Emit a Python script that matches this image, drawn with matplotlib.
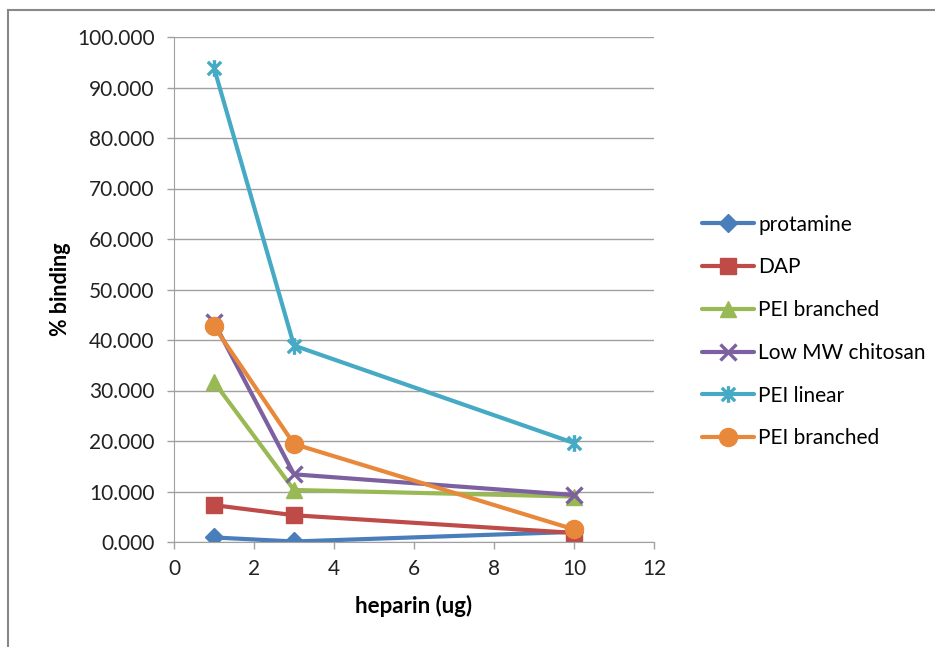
import numpy as np
import matplotlib
matplotlib.use("Agg")
import matplotlib.pyplot as plt
from matplotlib.path import Path
from matplotlib.lines import Line2D

heparin = [1, 3, 10]
names = ["protamine", "DAP", "PEI branched", "Low MW chitosan", "PEI linear", "PEI branched"]
protamine = [0.9, 0.1, 2.0]
dap = [7.3, 5.3, 1.8]
pei_branched = [31.7, 10.3, 9.0]
chitosan = [43.5, 13.4, 9.3]
pei_linear = [93.9, 38.9, 19.6]
pei_branched2 = [42.7, 19.4, 2.5]
series = [protamine, dap, pei_branched, chitosan, pei_linear, pei_branched2]

colors = ["#4A7EBB", "#BE4B48", "#98B954", "#7D60A0", "#46AAC5", "#E8883A"]

# excel style star: x plus a vertical bar
star = Path([(-1, -1), (1, 1), (-1, 1), (1, -1), (0, -1.25), (0, 1.25)],
            [Path.MOVETO, Path.LINETO, Path.MOVETO, Path.LINETO, Path.MOVETO, Path.LINETO])
markers = ["D", "s", "^", "x", star, "o"]
msizes = [9, 12, 12, 11, 12, 13]

plt.rcParams["font.family"] = ["Lato", "DejaVu Sans"]

fig = plt.figure(figsize=(9.35, 6.47), dpi=100)
ax = fig.add_axes([174/935, 1-542/647, 480/935, 505/647])

for vals, name, c, m, ms in zip(series, names, colors, markers, msizes):
    if m in ("x",) or isinstance(m, Path):
        ax.plot(heparin, vals, color=c, lw=3, marker=m, ms=ms, mew=2.4,
                mec=c, label=name, solid_capstyle="round")
    else:
        ax.plot(heparin, vals, color=c, lw=3, marker=m, ms=ms, mec=c,
                mfc=c, label=name, solid_capstyle="round")

ax.set_xlim(0, 12)
ax.set_ylim(0, 100)
ax.set_xticks(np.arange(0, 13, 2))
ax.set_yticks(np.arange(0, 101, 10))
ax.set_yticklabels(["%.3f" % v for v in np.arange(0, 101, 10)])
ax.yaxis.grid(True, color="#A0A0A0", lw=1)
ax.set_axisbelow(True)
for s in ["top", "right"]:
    ax.spines[s].set_visible(False)
ax.spines["left"].set_color("#A0A0A0")
ax.spines["bottom"].set_color("#A0A0A0")
ax.tick_params(axis="both", colors="#A0A0A0", labelcolor="#222222", labelsize=15, length=5, width=1)
ax.tick_params(axis="y", pad=9)
ax.tick_params(axis="x", pad=7)

ax.set_xlabel("heparin (ug)", fontsize=16, fontweight="bold", labelpad=12)
ax.set_ylabel("% binding", fontsize=15.5, fontweight="bold", labelpad=4)

fig.legend(loc="upper left", bbox_to_anchor=(683/935, 1-196/647), frameon=False,
           fontsize=15, labelspacing=1.09, handlelength=2.5, handletextpad=0.2)

# chart frame
fig.add_artist(Line2D([8/935, 8/935], [0, 1-10/647], color="#888888", lw=1.5))
fig.add_artist(Line2D([8/935, 1], [1-10/647, 1-10/647], color="#888888", lw=1.5))

fig.savefig("out.png", dpi=100)
